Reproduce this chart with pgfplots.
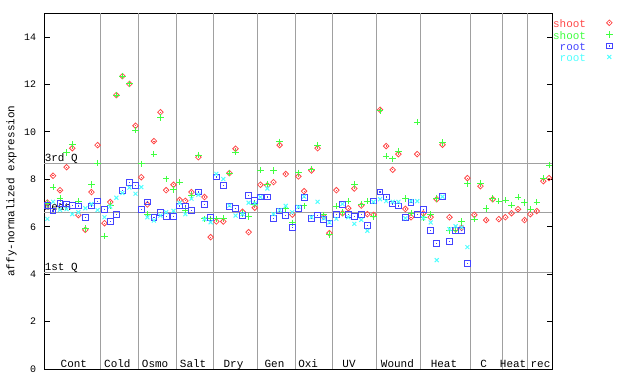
\documentclass[border=0pt]{standalone}
\usepackage{pgfplots}
\usepackage{pgfplotstable}
\pgfplotsset{compat=1.18}
\usepackage{fontspec}
\setmainfont{Liberation Mono}
\definecolor{cR}{RGB}{255,72,72}
\definecolor{cG}{RGB}{64,255,64}
\definecolor{cB}{RGB}{68,68,255}
\definecolor{cC}{RGB}{80,255,255}
\definecolor{gl}{RGB}{160,160,160}
\pgfdeclareplotmark{diadot}{%
 \pgfpathmoveto{\pgfqpoint{\pgfplotmarksize}{0pt}}%
 \pgfpathlineto{\pgfqpoint{0pt}{\pgfplotmarksize}}%
 \pgfpathlineto{\pgfqpoint{-\pgfplotmarksize}{0pt}}%
 \pgfpathlineto{\pgfqpoint{0pt}{-\pgfplotmarksize}}%
 \pgfpathclose\pgfusepathqstroke
 \pgfpathrectangle{\pgfqpoint{-0.6pt}{-0.6pt}}{\pgfqpoint{1.2pt}{1.2pt}}\pgfusepathqfill}
\pgfdeclareplotmark{sqdot}{%
 \pgfpathrectangle{\pgfqpoint{-\pgfplotmarksize}{-\pgfplotmarksize}}{\pgfqpoint{2\pgfplotmarksize}{2\pgfplotmarksize}}%
 \pgfusepathqstroke
 \pgfpathrectangle{\pgfqpoint{-0.6pt}{-0.6pt}}{\pgfqpoint{1.2pt}{1.2pt}}\pgfusepathqfill}
\pgfplotsset{lgm/.style={legend image code/.code={\draw[##1] plot coordinates {(0bp,3bp)};}}}

\pgfplotstableread{
x y
116 7.02
130 8.15
147 7.54
163 8.51
177 9.31
192 6.49
209 5.87
224 7.46
239 9.44
256 6.15
270 7.04
285 11.55
300 12.35
317 12.02
332 10.26
346 8.09
361 6.94
377 9.61
393 10.83
407 7.54
425 7.77
440 7.13
454 7.09
469 7.46
486 8.93
501 7.25
516 5.56
530 6.22
547 6.22
562 8.26
577 9.29
594 6.63
609 5.77
624 6.80
638 7.77
655 7.74
670 7.88
685 9.44
700 8.22
716 6.51
731 8.12
745 7.50
763 8.37
778 9.31
793 6.42
807 5.73
824 7.54
839 6.57
853 6.78
868 7.61
885 6.89
900 6.53
915 6.50
931 10.93
946 9.40
962 8.40
976 9.06
993 6.75
1007 6.40
1022 9.06
1037 6.56
1055 6.40
1070 7.16
1084 9.46
1101 6.40
1116 5.90
1131 5.95
1145 8.05
1162 6.50
1177 7.71
1191 6.28
1207 7.16
1222 6.32
1238 6.40
1253 6.57
1269 6.74
1285 6.28
1299 6.53
1315 6.66
1331 7.92
1345 8.05
}\shootA

\pgfplotstableread{
x y
116 6.98
130 7.67
147 7.18
163 9.12
177 9.46
192 7.08
209 5.92
224 7.77
239 8.68
256 5.60
270 6.89
285 11.55
300 12.35
317 12.02
332 10.07
346 8.65
361 6.53
377 9.06
393 10.60
407 8.02
425 7.57
440 7.88
454 6.70
469 7.32
486 9.02
501 6.33
516 6.33
530 6.33
547 6.36
562 8.26
577 9.15
594 6.55
609 6.44
624 6.95
638 8.39
655 7.80
670 8.36
685 9.58
700 6.75
716 6.16
731 8.27
745 6.88
763 8.43
778 9.44
793 6.50
807 5.68
824 6.87
839 6.61
853 7.08
868 7.77
885 6.95
900 7.08
915 6.44
931 10.88
946 8.98
962 8.86
976 9.19
993 7.18
1007 6.57
1022 10.41
1037 6.40
1055 6.53
1070 7.20
1084 9.55
1101 5.83
1116 5.83
1131 6.21
1145 7.81
1162 6.32
1177 7.84
1191 6.78
1207 7.20
1222 7.08
1238 7.12
1253 6.91
1269 7.25
1285 7.01
1299 6.74
1315 7.04
1331 8.05
1345 8.60
}\shootB

\pgfplotstableread{
x y
116 6.91
130 6.66
147 6.99
163 6.96
177 6.91
192 6.87
209 6.40
224 6.87
239 7.08
256 6.74
270 6.21
285 6.53
300 7.53
317 7.88
332 7.75
346 6.74
361 7.04
377 6.40
393 6.61
407 6.44
425 6.44
440 6.87
454 6.87
469 6.70
486 7.46
501 6.95
516 6.40
530 8.10
547 7.75
562 6.84
577 6.78
594 6.47
609 7.33
624 7.12
638 7.25
655 7.25
670 6.36
685 6.66
700 6.47
716 5.98
731 6.78
745 7.22
763 6.35
778 6.49
793 6.29
807 6.13
824 6.50
839 6.94
853 6.50
868 6.44
885 6.53
900 6.06
915 7.08
931 7.46
946 7.25
962 6.96
976 6.87
993 6.40
1007 7.01
1022 6.53
1037 6.74
1055 5.85
1070 5.30
1084 7.27
1101 5.39
1116 5.85
1131 5.85
1145 4.46
}\rootA

\pgfplotstableread{
x y
116 6.33
130 7.05
147 6.71
163 6.74
177 6.53
192 6.61
209 6.78
224 6.96
239 6.70
256 6.40
270 6.85
285 7.22
300 7.42
317 7.65
332 7.39
346 7.67
361 6.40
377 6.26
393 6.47
407 6.61
425 6.67
440 7.01
454 6.53
469 7.18
486 7.35
501 6.32
516 6.19
530 8.23
547 8.01
562 6.89
577 6.47
594 6.53
609 7.01
624 6.98
638 7.25
655 7.61
670 6.53
685 6.70
700 6.88
716 6.61
731 6.84
745 7.27
763 6.40
778 7.05
793 6.35
807 6.18
824 6.33
839 6.96
853 6.40
868 6.12
885 6.29
900 5.83
915 7.05
931 7.16
946 7.08
962 7.05
976 7.05
993 6.36
1007 7.08
1022 7.08
1037 6.36
1055 6.18
1070 4.59
1084 7.27
1101 5.90
1116 6.02
1131 5.98
1145 5.14
}\rootB

\begin{document}
\begin{tikzpicture}[font=\fontsize{11}{12}\selectfont]
\begin{axis}[
  at={(0,0)}, anchor=south west,
  scale only axis, width=508.2bp, height=355.7bp,
  xmin=108, xmax=1353, ymin=0, ymax=15,
  xtick=\empty,
  ytick={0,2,4,6,8,10,12,14},
  ytick pos=both, tick align=inside, major tick length=5.7bp,
  yticklabel style={font=\fontsize{10}{12}\selectfont, xshift=-4.5bp},
  /pgf/number format/assume math mode=true,
  axis line style={line width=1bp},
  every tick/.style={black, line width=1bp},
  ylabel={affy-normalized expression},
  ylabel style={at={(axis description cs:-0.0641,0.5)}, anchor=center, font=\fontsize{11}{12}\selectfont},
  legend style={draw=none, fill=none, inner sep=0pt,
    at={(axis description cs:1,1)}, anchor=north east, xshift=60.5bp, yshift=-6.5bp,
    font=\fontsize{11}{12}\selectfont,
    nodes={inner sep=0pt, text height=7.5bp, text depth=3.5bp},
    row sep=0pt, /tikz/every odd column/.append style={column sep=20bp}},
  legend plot pos=right, legend cell align=right,
]
\pgfplotsinvokeforeach{246,339,432,522,630,724,814,922,1030,1153,1230,1292}{
  \draw[gl, line width=1bp] (axis cs:#1,0) -- (axis cs:#1,15);
}
\draw[gl, line width=1bp] (axis cs:108,8.68) -- (axis cs:1353,8.68);
\draw[gl, line width=1bp] (axis cs:108,6.61) -- (axis cs:1353,6.61);
\draw[gl, line width=1bp] (axis cs:108,4.08) -- (axis cs:1353,4.08);
\node[anchor=base west, inner sep=0pt, xshift=0.5bp, yshift=1.6bp] at (axis cs:108,8.68) {3rd Q};
\node[anchor=base west, inner sep=0pt, xshift=0.5bp, yshift=1.3bp] at (axis cs:108,6.61) {mean};
\node[anchor=base west, inner sep=0pt, xshift=0.5bp, yshift=1.3bp] at (axis cs:108,4.08) {1st Q};

\addplot[only marks, mark=diadot, color=cR, mark size=2.8pt, line width=0.8pt, lgm] table[x=x,y=y] {\shootA};
\addlegendentry{\textcolor{cR}{shoot}}
\addplot[only marks, mark=+, color=cG, mark size=3.3pt, line width=1pt, lgm] table[x=x,y=y] {\shootB};
\addlegendentry{\textcolor{cG}{shoot}}
\addplot[only marks, mark=sqdot, color=cB, mark size=2.9pt, line width=1pt, lgm] table[x=x,y=y] {\rootA};
\addlegendentry{\textcolor{cB}{root}}
\addplot[only marks, mark=x, color=cC, mark size=2.8pt, line width=1pt, lgm] table[x=x,y=y] {\rootB};
\addlegendentry{\textcolor{cC}{root}}

\node[anchor=base, inner sep=0pt, yshift=1.3bp] at (axis cs:181,0) {Cont};
\node[anchor=base, inner sep=0pt, yshift=1.3bp] at (axis cs:287.5,0) {Cold};
\node[anchor=base, inner sep=0pt, yshift=1.3bp] at (axis cs:380,0) {Osmo};
\node[anchor=base, inner sep=0pt, yshift=1.3bp] at (axis cs:473,0) {Salt};
\node[anchor=base, inner sep=0pt, yshift=1.3bp] at (axis cs:572,0) {Dry};
\node[anchor=base, inner sep=0pt, yshift=1.3bp] at (axis cs:672.5,0) {Gen};
\node[anchor=base, inner sep=0pt, yshift=1.3bp] at (axis cs:755,0) {Oxi};
\node[anchor=base, inner sep=0pt, yshift=1.3bp] at (axis cs:855,0) {UV};
\node[anchor=base, inner sep=0pt, yshift=1.3bp] at (axis cs:973.5,0) {Wound};
\node[anchor=base, inner sep=0pt, yshift=1.3bp] at (axis cs:1087.5,0) {Heat};
\node[anchor=base, inner sep=0pt, yshift=1.3bp] at (axis cs:1185,0) {C};
\node[anchor=base, inner sep=0pt, yshift=1.3bp] at (axis cs:1257,0) {Heat};
\node[anchor=base, inner sep=0pt, yshift=1.3bp] at (axis cs:1324,0) {rec};
\node[anchor=base, inner sep=0pt, yshift=-10bp] at (axis cs:1230,0) {suspension};
\end{axis}
\pgfresetboundingbox
\path (-44.1bp,-15bp) rectangle (595.9bp,369bp);
\end{tikzpicture}
\end{document}
